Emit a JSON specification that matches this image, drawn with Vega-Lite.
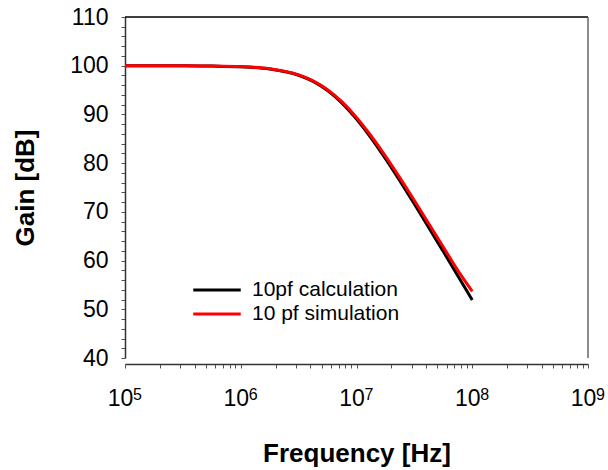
{
  "$schema": "https://vega.github.io/schema/vega-lite/v6.json",
  "width": 463,
  "height": 341,
  "autosize": "none",
  "padding": {"left": 125, "top": 17, "right": 20, "bottom": 112},
  "background": "white",
  "config": {
    "view": {"stroke": null},
    "font": "Liberation Sans"
  },
  "resolve": {"axis": {"x": "independent", "y": "independent"}},
  "datasets": {
    "curves": [
      {"f": 100000, "gain": 100.00, "series": "10pf calculation"},
      {"f": 316228, "gain": 99.98, "series": "10pf calculation"},
      {"f": 562341, "gain": 99.93, "series": "10pf calculation"},
      {"f": 1000000, "gain": 99.78, "series": "10pf calculation"},
      {"f": 1778279, "gain": 99.33, "series": "10pf calculation"},
      {"f": 3162278, "gain": 98.05, "series": "10pf calculation"},
      {"f": 4216965, "gain": 96.78, "series": "10pf calculation"},
      {"f": 5623413, "gain": 94.90, "series": "10pf calculation"},
      {"f": 7498942, "gain": 92.33, "series": "10pf calculation"},
      {"f": 10000000, "gain": 89.06, "series": "10pf calculation"},
      {"f": 13335214, "gain": 85.21, "series": "10pf calculation"},
      {"f": 17782794, "gain": 80.93, "series": "10pf calculation"},
      {"f": 23713737, "gain": 76.37, "series": "10pf calculation"},
      {"f": 31622777, "gain": 71.62, "series": "10pf calculation"},
      {"f": 42169650, "gain": 66.77, "series": "10pf calculation"},
      {"f": 56234133, "gain": 61.85, "series": "10pf calculation"},
      {"f": 74989421, "gain": 56.90, "series": "10pf calculation"},
      {"f": 100000000, "gain": 51.92, "series": "10pf calculation"},
      {"f": 100000, "gain": 100.00, "series": "10 pf simulation"},
      {"f": 316228, "gain": 99.98, "series": "10 pf simulation"},
      {"f": 562341, "gain": 99.94, "series": "10 pf simulation"},
      {"f": 1000000, "gain": 99.80, "series": "10 pf simulation"},
      {"f": 1778279, "gain": 99.37, "series": "10 pf simulation"},
      {"f": 3162278, "gain": 98.12, "series": "10 pf simulation"},
      {"f": 4216965, "gain": 96.90, "series": "10 pf simulation"},
      {"f": 5623413, "gain": 95.08, "series": "10 pf simulation"},
      {"f": 7498942, "gain": 92.58, "series": "10 pf simulation"},
      {"f": 10000000, "gain": 89.38, "series": "10 pf simulation"},
      {"f": 13335214, "gain": 85.62, "series": "10 pf simulation"},
      {"f": 17782794, "gain": 81.43, "series": "10 pf simulation"},
      {"f": 23713737, "gain": 76.97, "series": "10 pf simulation"},
      {"f": 31622777, "gain": 72.32, "series": "10 pf simulation"},
      {"f": 42169650, "gain": 67.57, "series": "10 pf simulation"},
      {"f": 56234133, "gain": 62.80, "series": "10 pf simulation"},
      {"f": 74989421, "gain": 58.00, "series": "10 pf simulation"},
      {"f": 100000000, "gain": 53.70, "series": "10 pf simulation"}
    ],
    "decades": [
      {"f": 100000, "exponent": "5"},
      {"f": 1000000, "exponent": "6"},
      {"f": 10000000, "exponent": "7"},
      {"f": 100000000, "exponent": "8"},
      {"f": 1000000000, "exponent": "9"}
    ]
  },
  "layer": [
    {
      "data": {"name": "curves"},
      "mark": {"type": "line", "strokeWidth": 3, "interpolate": "monotone", "clip": true},
      "encoding": {
        "x": {
          "field": "f", "type": "quantitative",
          "title": "Frequency [Hz]",
          "scale": {"type": "log", "domain": [100000, 1000000000], "nice": false},
          "axis": {
            "orient": "bottom",
            "offset": 6,
            "grid": false,
            "values": [100000, 200000, 300000, 400000, 500000, 600000, 700000, 800000, 900000,
                       1000000, 2000000, 3000000, 4000000, 5000000, 6000000, 7000000, 8000000, 9000000,
                       10000000, 20000000, 30000000, 40000000, 50000000, 60000000, 70000000, 80000000, 90000000,
                       100000000, 200000000, 300000000, 400000000, 500000000, 600000000, 700000000, 800000000, 900000000,
                       1000000000],
            "labelExpr": "(datum.value == 100000 || datum.value == 1000000 || datum.value == 10000000 || datum.value == 100000000 || datum.value == 1000000000) ? '10' : ''",
            "labelOverlap": false,
            "labelFlush": false,
            "labelOffset": -5,
            "labelFont": "Liberation Sans",
            "labelFontSize": 23,
            "labelColor": "#000",
            "labelPadding": 19,
            "tickSize": 4,
            "tickColor": "#555",
            "tickWidth": 1,
            "domainColor": "#333",
            "domainWidth": 1.5,
            "titleFont": "Liberation Sans",
            "titleFontSize": 26,
            "titleFontWeight": "bold",
            "titleColor": "#000",
            "titlePadding": 30
          }
        },
        "y": {
          "field": "gain", "type": "quantitative",
          "title": "Gain [dB]",
          "scale": {"domain": [40, 110], "nice": false, "zero": false},
          "axis": {
            "orient": "left",
            "grid": false,
            "values": [40, 42, 44, 46, 48, 50, 52, 54, 56, 58, 60, 62, 64, 66, 68, 70, 72, 74, 76, 78, 80,
                       82, 84, 86, 88, 90, 92, 94, 96, 98, 100, 102, 104, 106, 108, 110],
            "labelExpr": "datum.value % 10 == 0 ? datum.label : ''",
            "labelOverlap": false,
            "labelFlush": false,
            "labelFont": "Liberation Sans",
            "labelFontSize": 23,
            "labelColor": "#000",
            "labelPadding": 13,
            "tickSize": 4,
            "tickColor": "#555",
            "tickWidth": 1,
            "domainColor": "#333",
            "domainWidth": 1.5,
            "titleFont": "Liberation Sans",
            "titleFontSize": 26,
            "titleFontWeight": "bold",
            "titleColor": "#000",
            "titlePadding": 31
          }
        },
        "color": {
          "field": "series", "type": "nominal",
          "scale": {"domain": ["10pf calculation", "10 pf simulation"], "range": ["#000000", "#ff0000"]},
          "sort": ["10pf calculation", "10 pf simulation"],
          "legend": {
            "title": null,
            "orient": "none",
            "legendX": 81,
            "legendY": 262,
            "padding": 0,
            "symbolType": "M-2.5,0H2.5",
            "symbolSize": 361,
            "symbolStrokeWidth": 3,
            "labelOffset": 24,
            "labelFont": "Liberation Sans",
            "labelFontSize": 21,
            "labelColor": "#000",
            "labelLimit": 400,
            "rowPadding": 3
          }
        }
      }
    },
    {
      "data": {"values": [{"f": 100000, "f2": 1000000000, "gain": 110}]},
      "mark": {"type": "rule", "color": "#000", "strokeWidth": 1.5},
      "encoding": {
        "x": {"field": "f", "type": "quantitative", "axis": null},
        "x2": {"field": "f2"},
        "y": {"field": "gain", "type": "quantitative", "axis": null}
      }
    },
    {
      "data": {"values": [{"f": 1000000000, "gain": 40, "gain2": 110}]},
      "mark": {"type": "rule", "color": "#666", "strokeWidth": 1.5},
      "encoding": {
        "x": {"field": "f", "type": "quantitative", "axis": null},
        "y": {"field": "gain", "type": "quantitative", "axis": null},
        "y2": {"field": "gain2"}
      }
    },
    {
      "data": {"name": "decades"},
      "mark": {"type": "text", "align": "left", "baseline": "alphabetic", "dx": 8, "dy": 42, "font": "Liberation Sans", "fontSize": 16, "color": "#000"},
      "encoding": {
        "x": {"field": "f", "type": "quantitative", "axis": null},
        "y": {"datum": 40, "type": "quantitative", "axis": null},
        "text": {"field": "exponent"}
      }
    }
  ]
}
